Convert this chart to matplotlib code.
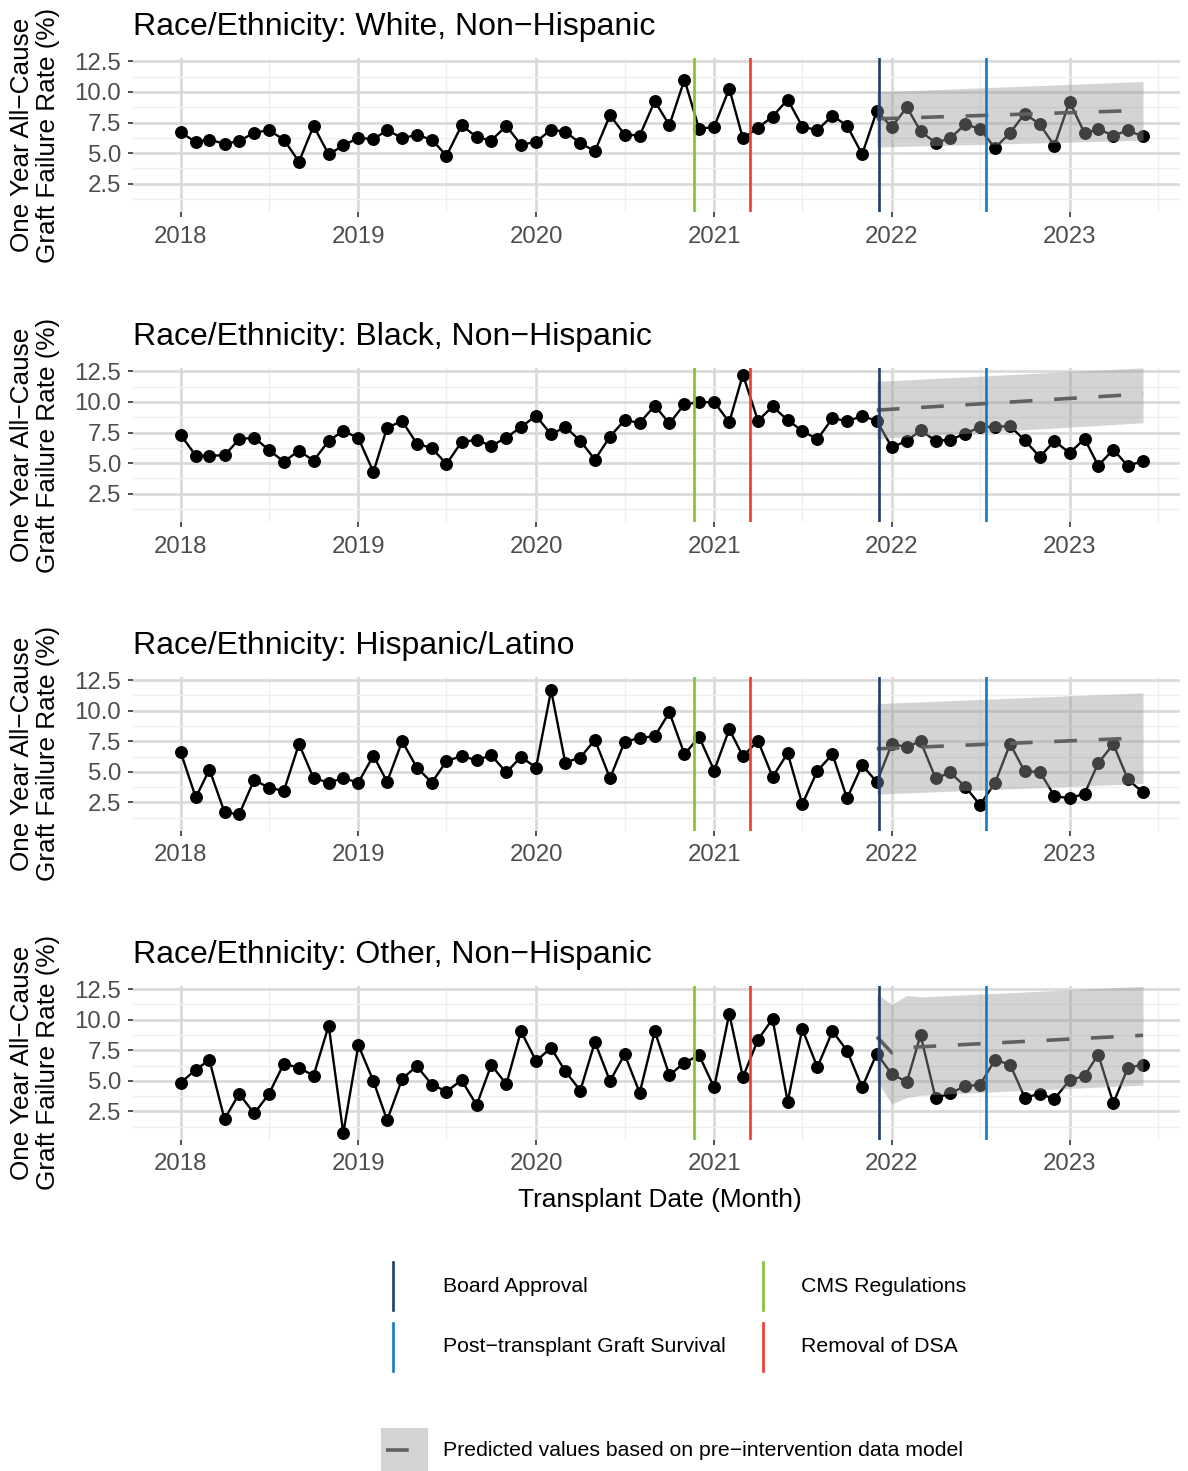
import datetime as dt
import matplotlib
matplotlib.use("Agg")
import matplotlib.pyplot as plt
import matplotlib.dates as mdates
from matplotlib.lines import Line2D
from matplotlib.patches import Rectangle

plt.rcParams['font.family'] = ['Liberation Sans', 'DejaVu Sans']

# ---------------- data ----------------
start_year, start_month, n_months = 2018, 1, 66
groups = ["White, Non\u2212Hispanic", "Black, Non\u2212Hispanic",
          "Hispanic/Latino", "Other, Non\u2212Hispanic"]

white = [6.71, 5.90, 6.11, 5.76, 5.98, 6.68, 6.87, 6.11, 4.29, 7.23, 4.89, 5.63,
         6.25, 6.14, 6.87, 6.25, 6.47, 6.11, 4.78, 7.26, 6.33, 6.03, 7.23, 5.68,
         5.92, 6.93, 6.74, 5.82, 5.16, 8.10, 6.52, 6.44, 9.24, 7.28, 11.01, 6.98,
         7.15, 10.27, 6.20, 7.07, 7.99, 9.38, 7.17, 6.87, 8.07, 7.23, 4.92, 8.42,
         7.15, 8.75, 6.79, 5.84, 6.22, 7.36, 6.98, 5.43, 6.66, 8.23, 7.36, 5.60,
         9.21, 6.63, 6.96, 6.44, 6.85, 6.36]
black = [7.31, 5.61, 5.61, 5.64, 6.95, 7.09, 6.08, 5.12, 6.02, 5.20, 6.82, 7.64,
         7.04, 4.28, 7.91, 8.43, 6.60, 6.22, 4.93, 6.73, 6.90, 6.41, 7.09, 7.94,
         8.87, 7.34, 7.96, 6.82, 5.29, 7.17, 8.51, 8.29, 9.69, 8.24, 9.82, 9.96,
         9.99, 8.35, 12.23, 8.46, 9.63, 8.51, 7.64, 6.95, 8.67, 8.43, 8.84, 8.46,
         6.30, 6.82, 7.69, 6.82, 6.90, 7.42, 7.94, 7.99, 8.02, 6.87, 5.51, 6.82,
         5.83, 6.98, 4.80, 6.11, 4.77, 5.18]
hispanic = [6.60, 2.91, 5.19, 1.71, 1.52, 4.35, 3.70, 3.45, 7.28, 4.48, 4.13, 4.48,
            4.13, 6.33, 4.18, 7.50, 5.35, 4.13, 5.87, 6.30, 5.95, 6.36, 4.95, 6.22,
            5.35, 11.66, 5.76, 6.17, 7.61, 4.48, 7.45, 7.77, 7.91, 9.86, 6.44, 7.85,
            5.11, 8.48, 6.28, 7.53, 4.59, 6.52, 2.36, 5.08, 6.44, 2.83, 5.57, 4.16,
            7.26, 7.04, 7.50, 4.46, 4.95, 3.78, 2.31, 4.10, 7.28, 5.03, 5.00, 3.04,
            2.83, 3.23, 5.71, 7.26, 4.38, 3.32]
other = [4.84, 5.92, 6.71, 1.87, 3.94, 2.34, 3.91, 6.41, 6.06, 5.43, 9.51, 0.73,
         7.91, 4.97, 1.79, 5.16, 6.20, 4.70, 4.13, 5.05, 3.02, 6.30, 4.73, 9.05,
         6.63, 7.69, 5.79, 4.21, 8.18, 4.97, 7.17, 4.02, 9.05, 5.46, 6.49, 7.09,
         4.46, 10.49, 5.30, 8.37, 10.05, 3.29, 9.24, 6.11, 9.05, 7.47, 4.46, 7.23,
         5.54, 4.92, 8.75, 3.56, 4.00, 4.57, 4.68, 6.71, 6.33, 3.64, 3.94, 3.53,
         5.05, 5.41, 7.15, 3.18, 6.06, 6.33]
series = [white, black, hispanic, other]

# predicted (pre-intervention model) values: dates as (year, month)
pred_dates = [
    [(2021, 12), (2023, 6)],
    [(2021, 12), (2023, 6)],
    [(2021, 12), (2023, 6)],
    [(2021, 12), (2022, 1), (2022, 2), (2022, 3), (2023, 6)],
]
pred_fit = [[7.80, 8.50], [9.33, 10.65], [6.88, 7.78], [8.60, 7.30, 7.72, 7.78, 8.72]]
pred_lo = [[5.50, 6.05], [7.00, 8.30], [3.18, 4.05], [5.00, 3.10, 3.64, 3.83, 4.65]]
pred_hi = [[10.00, 10.85], [11.68, 12.78], [10.57, 11.45], [12.10, 11.25, 11.98, 11.85, 12.72]]

event_names = ["Board Approval", "CMS Regulations", "Post\u2212transplant Graft Survival", "Removal of DSA"]
event_dates = [dt.date(2021, 12, 6), dt.date(2020, 11, 20), dt.date(2022, 7, 14), dt.date(2021, 3, 15)]
event_colors = ["#1B3F6C", "#7CC533", "#1479C4", "#EE3A2A"]

year_ticks = [2018, 2019, 2020, 2021, 2022, 2023]
y_ticks = [2.5, 5.0, 7.5, 10.0, 12.5]

# ---------------- figure ----------------
W, H = 1188, 1471
fig = plt.figure(figsize=(W / 100, H / 100), dpi=100)

dates = []
for i in range(n_months):
    m = start_month - 1 + i
    dates.append(dt.date(start_year + m // 12, m % 12 + 1, 1))

left_px, right_px = 133, 1180
tops = [58, 368, 676.7, 985.7]
ph = 154.3
xmin = dt.date(2018, 1, 1) - dt.timedelta(days=98.7)
xmax = dt.date(2023, 6, 1) + dt.timedelta(days=76)

tick_col = "#4D4D4D"
for k, (name, vals) in enumerate(zip(groups, series)):
    top = tops[k]
    ax = fig.add_axes([left_px / W, 1 - (top + ph) / H, (right_px - left_px) / W, ph / H])
    for s in ax.spines.values():
        s.set_visible(False)

    ax.plot(dates, vals, color="black", lw=1.7, zorder=2,
            marker="o", ms=8.3, mfc="black", mec="black")

    pdts = [dt.date(y, m, 1) for (y, m) in pred_dates[k]]
    ax.fill_between(pdts, pred_lo[k], pred_hi[k], color="#999999", alpha=0.42, lw=0, zorder=3)
    ax.plot(pdts, pred_fit[k], color="#606060", lw=2.6, dashes=(6.3, 6.0),
            dash_capstyle="butt", zorder=4)

    for d, c in zip(event_dates, event_colors):
        ax.axvline(d, color=c, lw=1.9, zorder=5)

    ax.set_yticks(y_ticks)
    ax.set_yticklabels([f"{v:.1f}" for v in y_ticks])
    ax.set_yticks([1.25, 3.75, 6.25, 8.75, 11.25], minor=True)
    ax.set_xticks([dt.date(y, 1, 1) for y in year_ticks])
    ax.set_xticklabels([str(y) for y in year_ticks])
    ax.set_xticks([dt.date(y, 7, 1) for y in range(2017, 2024)], minor=True)
    ax.set_xlim(xmin, xmax)
    ax.set_ylim(0.17, 12.77)
    ax.grid(True, which="major", color="#D9D9D9", lw=1.9, zorder=0)
    ax.grid(True, which="minor", color="#EFEFEF", lw=1.0, zorder=0)
    ax.set_axisbelow(True)
    ax.tick_params(axis="both", which="major", length=3.6, width=1.2, color="#333333",
                   labelsize=17.3, labelcolor=tick_col)
    ax.tick_params(axis="x", which="major", pad=6)
    ax.tick_params(axis="y", which="major", pad=5)
    ax.tick_params(which="minor", length=0)

    fig.text(133 / W, 1 - (top - 31) / H, "Race/Ethnicity: " + name, fontsize=23,
             ha="left", va="center")
    fig.text(35 / W, 1 - (top + ph / 2) / H, "One Year All\u2212Cause\nGraft Failure Rate (%)",
             fontsize=18.8, rotation=90, ha="center", va="center", linespacing=1.1)

fig.text(660 / W, 1 - 1200 / H, "Transplant Date (Month)", fontsize=18.9, ha="center", va="center")

# ---------------- legends ----------------
leg_pos = [(393, 443, 1286), (763, 801, 1286), (393, 443, 1347), (763, 801, 1347)]
for (kx, tx, cy), nm, c in zip(leg_pos, event_names, event_colors):
    fig.add_artist(Line2D([kx / W, kx / W], [1 - (cy - 24) / H, 1 - (cy + 24) / H],
                          color=c, lw=1.9, transform=fig.transFigure))
    fig.text(tx / W, 1 - cy / H, nm, fontsize=15.3, ha="left", va="center")

fig.add_artist(Rectangle((381 / W, 1 - 1471 / H), 47 / W, 43 / H, facecolor="#D3D3D3",
                         edgecolor="none", transform=fig.transFigure))
fig.add_artist(Line2D([386 / W, 423 / W], [1 - 1450 / H, 1 - 1450 / H], color="#606060",
                      lw=2.6, dashes=(6.3, 6.0), transform=fig.transFigure))
fig.text(443 / W, 1 - 1450 / H, "Predicted values based on pre\u2212intervention data model",
         fontsize=15.3, ha="left", va="center")

fig.savefig("out.png", dpi=100)
